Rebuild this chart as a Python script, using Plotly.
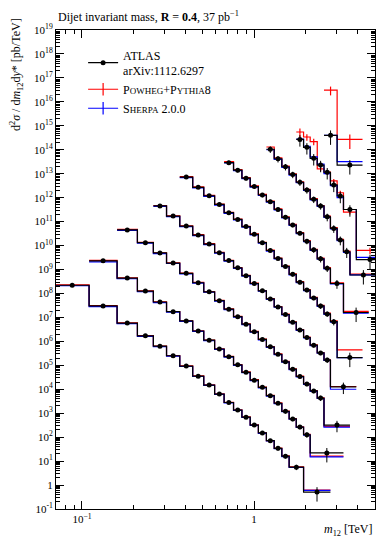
import plotly.graph_objects as go

# ---------------- data (values as plotted, slice i already scaled by 10^i) ----------------
# y* < 0.5
edges_y0 = [0.07, 0.11, 0.16, 0.21, 0.26, 0.31, 0.37, 0.44, 0.51, 0.59, 0.67, 0.76, 0.85, 0.95, 1.06, 1.18, 1.31, 1.45, 1.60, 1.94, 2.78]
data_y0 = [2.2e8, 3.0e7, 5.8e6, 1.7e6, 6.3e5, 2.5e5, 9.3e4, 3.5e4, 1.5e4, 6.3e3, 2.8e3, 1.35e3, 6.8e2, 3.2e2, 1.5e2, 71, 34, 16, 5.6, 0.51]
powheg_y0 = [2.3e8, 3.1e7, 5.9e6, 1.75e6, 6.4e5, 2.55e5, 9.5e4, 3.6e4, 1.52e4, 6.4e3, 2.85e3, 1.38e3, 7.0e2, 3.3e2, 1.52e2, 72, 35, 16.5, 5.8, 0.62]
sherpa_y0 = [2.1e8, 2.8e7, 5.5e6, 1.6e6, 6.0e5, 2.4e5, 8.9e4, 3.4e4, 1.45e4, 6.1e3, 2.7e3, 1.3e3, 6.6e2, 3.1e2, 1.45e2, 69, 33, 15.5, 5.4, 0.6]
err_y0 = [0.15, 0.15, 0.15, 0.15, 0.15, 0.15, 0.15, 0.15, 0.15, 0.15, 0.15, 0.15, 0.15, 0.15, 0.15, 0.15, 0.2, 0.2, 0.25, 0.6]

# 0.5 < y* < 1.0
edges_y1 = [0.11, 0.16, 0.21, 0.26, 0.31, 0.37, 0.44, 0.51, 0.59, 0.67, 0.76, 0.85, 0.95, 1.06, 1.18, 1.31, 1.45, 1.60, 1.76, 1.94, 2.12, 3.31]
data_y1 = [2.3e9, 4.4e8, 1.26e8, 4.4e7, 1.74e7, 7.1e6, 2.7e6, 1.12e6, 4.8e5, 2.3e5, 1.05e5, 5.1e4, 2.4e4, 1.2e4, 5.4e3, 2.6e3, 1.2e3, 575, 263, 126, 22]
powheg_y1 = [2.4e9, 4.5e8, 1.28e8, 4.5e7, 1.76e7, 7.2e6, 2.75e6, 1.14e6, 4.9e5, 2.35e5, 1.07e5, 5.3e4, 2.5e4, 1.22e4, 5.5e3, 2.7e3, 1.22e3, 590, 270, 130, 16]
sherpa_y1 = [2.1e9, 4.1e8, 1.18e8, 4.1e7, 1.65e7, 6.8e6, 2.6e6, 1.07e6, 4.6e5, 2.2e5, 1.0e5, 4.9e4, 2.3e4, 1.15e4, 5.2e3, 2.5e3, 1.16e3, 560, 255, 122, 15]
err_y1 = [0.15, 0.15, 0.15, 0.15, 0.15, 0.15, 0.15, 0.15, 0.15, 0.15, 0.15, 0.15, 0.15, 0.15, 0.15, 0.15, 0.2, 0.2, 0.2, 0.25, 0.6]

# 1.0 < y* < 1.5
edges_y2 = [0.16, 0.21, 0.26, 0.31, 0.37, 0.44, 0.51, 0.59, 0.67, 0.76, 0.85, 0.95, 1.06, 1.18, 1.31, 1.45, 1.60, 1.76, 1.94, 2.12, 2.33, 2.55, 3.61]
data_y2 = [4.5e10, 1.32e10, 4.9e9, 1.86e9, 6.9e8, 2.8e8, 1.17e8, 5.0e7, 2.2e7, 1.07e7, 5.2e6, 2.5e6, 1.2e6, 5.9e5, 2.9e5, 1.4e5, 6.9e4, 3.4e4, 1.66e4, 8.5e3, 4.3e3, 320]
powheg_y2 = [4.7e10, 1.36e10, 5.0e9, 1.9e9, 7.1e8, 2.9e8, 1.2e8, 5.1e7, 2.25e7, 1.1e7, 5.4e6, 2.6e6, 1.25e6, 6.0e5, 3.0e5, 1.45e5, 7.1e4, 3.5e4, 1.7e4, 8.7e3, 4.4e3, 280]
sherpa_y2 = [4.3e10, 1.25e10, 4.6e9, 1.78e9, 6.6e8, 2.7e8, 1.12e8, 4.8e7, 2.1e7, 1.03e7, 5.0e6, 2.4e6, 1.15e6, 5.6e5, 2.8e5, 1.35e5, 6.6e4, 3.3e4, 1.6e4, 8.2e3, 4.1e3, 260]
err_y2 = [0.15, 0.15, 0.15, 0.15, 0.15, 0.15, 0.15, 0.15, 0.15, 0.15, 0.15, 0.15, 0.15, 0.15, 0.15, 0.15, 0.2, 0.2, 0.2, 0.2, 0.25, 0.5]

# 1.5 < y* < 2.0
edges_y3 = [0.26, 0.31, 0.37, 0.44, 0.51, 0.59, 0.67, 0.76, 0.85, 0.95, 1.06, 1.18, 1.31, 1.45, 1.60, 1.76, 1.94, 2.12, 2.33, 2.55, 2.78, 3.93]
data_y3 = [4.5e11, 1.7e11, 6.5e10, 2.75e10, 1.15e10, 5.0e9, 2.35e9, 1.17e9, 5.5e8, 2.6e8, 1.29e8, 5.9e7, 2.75e7, 1.32e7, 6.3e6, 3.0e6, 1.45e6, 6.9e5, 3.3e5, 1.66e5, 1.26e4]
powheg_y3 = [4.7e11, 1.75e11, 6.7e10, 2.85e10, 1.2e10, 5.2e9, 2.4e9, 1.2e9, 5.7e8, 2.7e8, 1.33e8, 6.1e7, 2.85e7, 1.36e7, 6.5e6, 3.1e6, 1.5e6, 7.1e5, 3.4e5, 1.7e5, 1.3e4]
sherpa_y3 = [4.3e11, 1.62e11, 6.2e10, 2.6e10, 1.1e10, 4.8e9, 2.25e9, 1.12e9, 5.3e8, 2.5e8, 1.24e8, 5.7e7, 2.65e7, 1.27e7, 6.1e6, 2.9e6, 1.4e6, 6.6e5, 3.2e5, 1.6e5, 1.0e4]
err_y3 = [0.15, 0.15, 0.15, 0.15, 0.15, 0.15, 0.15, 0.15, 0.15, 0.15, 0.15, 0.15, 0.15, 0.15, 0.15, 0.2, 0.2, 0.2, 0.2, 0.25, 0.5]

# 2.0 < y* < 2.5
edges_y4 = [0.37, 0.44, 0.51, 0.59, 0.67, 0.76, 0.85, 0.95, 1.06, 1.18, 1.31, 1.45, 1.60, 1.76, 1.94, 2.12, 2.33, 2.55, 2.78, 3.04, 4.27]
data_y4 = [7.2e12, 2.7e12, 1.2e12, 5.2e11, 2.35e11, 1.23e11, 6.2e10, 2.95e10, 1.32e10, 6.2e9, 2.9e9, 1.35e9, 6.3e8, 2.95e8, 1.38e8, 6.5e7, 3.0e7, 1.4e7, 6.6e6, 2.1e5]
powheg_y4 = [7.6e12, 2.8e12, 1.25e12, 5.4e11, 2.45e11, 1.28e11, 6.4e10, 3.05e10, 1.37e10, 6.4e9, 3.0e9, 1.4e9, 6.6e8, 3.1e8, 1.45e8, 6.8e7, 3.2e7, 1.5e7, 7.2e6, 4.4e5]
sherpa_y4 = [6.9e12, 2.55e12, 1.14e12, 4.9e11, 2.2e11, 1.17e11, 5.9e10, 2.8e10, 1.25e10, 5.9e9, 2.75e9, 1.3e9, 6.0e8, 2.8e8, 1.32e8, 6.2e7, 2.9e7, 1.35e7, 6.3e6, 2.1e5]
err_y4 = [0.15, 0.15, 0.15, 0.15, 0.15, 0.15, 0.15, 0.15, 0.15, 0.15, 0.15, 0.15, 0.2, 0.2, 0.2, 0.2, 0.25, 0.25, 0.3, 0.6]

# 2.5 < y* < 3.0
edges_y5 = [0.67, 0.76, 0.85, 0.95, 1.06, 1.18, 1.31, 1.45, 1.60, 1.76, 1.94, 2.12, 2.33, 2.55, 2.78, 3.31, 4.64]
data_y5 = [2.9e13, 1.41e13, 6.5e12, 2.9e12, 1.29e12, 6.8e11, 3.2e11, 1.51e11, 7.2e10, 3.3e10, 1.51e10, 6.6e9, 2.8e9, 1.12e9, 2.6e8, 1.6e7]
powheg_y5 = [3.2e13, 1.5e13, 6.9e12, 3.1e12, 1.36e12, 7.1e11, 3.4e11, 1.58e11, 7.6e10, 3.5e10, 1.6e10, 7.0e9, 3.0e9, 1.2e9, 2.8e8, 1.8e7]
sherpa_y5 = [2.8e13, 1.35e13, 6.2e12, 2.75e12, 1.23e12, 6.5e11, 3.05e11, 1.44e11, 6.9e10, 3.15e10, 1.44e10, 6.3e9, 2.7e9, 1.07e9, 2.5e8, 1.5e7]
err_y5 = [0.2, 0.2, 0.2, 0.2, 0.2, 0.2, 0.2, 0.2, 0.2, 0.2, 0.25, 0.25, 0.3, 0.3, 0.4, 0.6]

# 3.0 < y* < 3.5
edges_y6 = [1.18, 1.31, 1.45, 1.60, 1.76, 1.94, 2.12, 2.33, 2.55, 2.78, 3.04, 3.31, 3.61, 5.17]
data_y6 = [1.05e14, 4.2e13, 1.95e13, 9.3e12, 4.4e12, 2.1e12, 8.5e11, 4.5e11, 1.58e11, 5.2e10, 1.7e10, 5.5e9, 5.9e8]
powheg_y6 = [1.3e14, 4.6e13, 2.1e13, 9.8e12, 4.6e12, 2.2e12, 9.2e11, 4.7e11, 1.7e11, 5.6e10, 1.8e10, 5.8e9, 6.5e8]
sherpa_y6 = [1.0e14, 4.0e13, 1.85e13, 8.8e12, 4.2e12, 2.0e12, 8.1e11, 4.3e11, 1.5e11, 5.0e10, 1.6e10, 5.2e9, 6.0e8]
err_y6 = [0.3, 0.3, 0.3, 0.3, 0.3, 0.3, 0.3, 0.3, 0.35, 0.35, 0.4, 0.45, 0.6]

# 3.5 < y* < 4.0
edges_y7 = [1.76, 1.94, 2.12, 2.33, 2.55, 2.78, 3.04, 3.31, 3.93, 5.67]
data_y7 = [2.7e14, 1.26e14, 4.4e13, 2.3e13, 1.15e13, 3.4e12, 1.17e12, 3.2e11, 2.6e9]
powheg_y7 = [5.5e14, 3.4e14, 2.2e14, 1.6e13, 1.17e13, 5.0e12, 1.6e12, 2.5e11, 6.3e9]
sherpa_y7 = [2.8e14, 1.4e14, 5.0e13, 2.5e13, 1.0e13, 3.2e12, 1.0e12, 3.2e11, 3.2e9]
err_y7 = [0.5, 0.5, 0.5, 0.5, 0.5, 0.5, 0.5, 0.5, 0.6]
powheg_err_y7 = [0.4, 0.3, 0.3, 0.2, 0.2, 0.2, 0.2, 0.2, 0.3]

# 4.0 < y* < 4.4
edges_y8 = [2.55, 3.04, 4.27]
data_y8 = [4.0e14, 2.3e13]
powheg_y8 = [3.1e16, 2.7e14]
sherpa_y8 = [4.0e14, 3.2e13]
err_y8 = [0.6, 0.6]
powheg_err_y8 = [0.4, 0.6]

SLICES = [
    (edges_y0, data_y0, powheg_y0, sherpa_y0, err_y0, None),
    (edges_y1, data_y1, powheg_y1, sherpa_y1, err_y1, None),
    (edges_y2, data_y2, powheg_y2, sherpa_y2, err_y2, None),
    (edges_y3, data_y3, powheg_y3, sherpa_y3, err_y3, None),
    (edges_y4, data_y4, powheg_y4, sherpa_y4, err_y4, None),
    (edges_y5, data_y5, powheg_y5, sherpa_y5, err_y5, None),
    (edges_y6, data_y6, powheg_y6, sherpa_y6, err_y6, None),
    (edges_y7, data_y7, powheg_y7, sherpa_y7, err_y7, powheg_err_y7),
    (edges_y8, data_y8, powheg_y8, sherpa_y8, err_y8, powheg_err_y8),
]

y_tick_exp = list(range(-1, 20))
x_major = [0.1, 1]
x_major_text = ["10<sup>−1</sup>", "1"]
x_minor = [0.07, 0.08, 0.09, 0.2, 0.3, 0.4, 0.5, 0.6, 0.7, 0.8, 0.9, 2, 3, 4, 5]

RED = "#ff0000"
BLUE = "#0000ff"
FONT = "Liberation Serif"

fig = go.Figure()


def centers(edges):
    return [(edges[i] * edges[i + 1]) ** 0.5 for i in range(len(edges) - 1)]


for edges, d, p, s, e, pe in SLICES:
    for vals, col in ((p, RED), (s, BLUE)):
        fig.add_trace(go.Scatter(x=edges, y=vals + [vals[-1]], mode="lines",
                                 line=dict(color=col, width=1.2, shape="hv"),
                                 showlegend=False, hoverinfo="skip"))
    if pe is not None:
        fig.add_trace(go.Scatter(x=centers(edges), y=p, mode="markers",
                                 marker=dict(size=1, color=RED),
                                 error_y=dict(type="data", array=[v * r for v, r in zip(p, pe)],
                                              arrayminus=[v * r for v, r in zip(p, pe)],
                                              color=RED, thickness=1.2, width=0),
                                 showlegend=False, hoverinfo="skip"))
    fig.add_trace(go.Scatter(x=edges, y=d + [d[-1]], mode="lines",
                             line=dict(color="black", width=1.2, shape="hv"),
                             showlegend=False, hoverinfo="skip"))
    fig.add_trace(go.Scatter(x=centers(edges), y=d, mode="markers",
                             marker=dict(size=5, color="black"),
                             error_y=dict(type="data", array=[v * r for v, r in zip(d, e)],
                                          arrayminus=[v * r for v, r in zip(d, e)],
                                          color="black", thickness=1, width=0),
                             showlegend=False, hoverinfo="skip"))

# legend entries
fig.add_trace(go.Scatter(x=[None], y=[None], mode="lines+markers",
                         line=dict(color="black", width=1.2), marker=dict(size=5, color="black"),
                         name="ATLAS<br>arXiv:1112.6297"))
fig.add_trace(go.Scatter(x=[None], y=[None], mode="lines+markers",
                         line=dict(color=RED, width=1.2),
                         marker=dict(symbol="line-ns", size=9, line=dict(color=RED, width=1.2)),
                         name="P<span style='font-size:9px'>OWHEG</span>+P<span style='font-size:9px'>YTHIA</span>8"))
fig.add_trace(go.Scatter(x=[None], y=[None], mode="lines+markers",
                         line=dict(color=BLUE, width=1.2),
                         marker=dict(symbol="line-ns", size=9, line=dict(color=BLUE, width=1.2)),
                         name="S<span style='font-size:9px'>HERPA</span> 2.0.0"))

fig.update_layout(
    width=380, height=542,
    margin=dict(l=56, r=5, t=30, b=33),
    paper_bgcolor="white", plot_bgcolor="white",
    font=dict(family=FONT, size=12, color="black"),
    showlegend=True,
    legend=dict(x=0.085, y=0.978, xanchor="left", yanchor="top", bgcolor="rgba(0,0,0,0)",
                font=dict(family=FONT, size=12), tracegroupgap=6, itemwidth=30),
    xaxis=dict(type="log", range=[-1.151, 0.703], showline=True, linecolor="black", linewidth=1,
               mirror="allticks", ticks="inside", ticklen=8, tickcolor="black",
               tickmode="array", tickvals=x_major, ticktext=x_major_text, showgrid=False, zeroline=False,
               tickfont=dict(size=11),
               minor=dict(tickmode="array", tickvals=x_minor, ticks="inside", ticklen=4, tickcolor="black", showgrid=False)),
    yaxis=dict(type="log", range=[-1, 19], showline=True, linecolor="black", linewidth=1,
               mirror="allticks", ticks="inside", ticklen=8, tickcolor="black",
               tickmode="array", tickvals=[10.0 ** k for k in y_tick_exp],
               ticktext=[("1" if k == 0 else "10<sup>%d</sup>" % k) for k in y_tick_exp],
               showgrid=False, zeroline=False, tickfont=dict(size=11),
               minor=dict(tickmode="array",
                          tickvals=[m * 10.0 ** k for k in y_tick_exp[:-1] for m in range(2, 10)],
                          ticks="inside", ticklen=4, tickcolor="black", showgrid=False)),
    annotations=[
        dict(text="Dijet invariant mass, <b>R</b> = <b>0.4</b>, 37 pb<sup>−1</sup>", xref="paper", yref="paper",
             x=0.0, y=1.0, xanchor="left", yanchor="bottom", yshift=4, showarrow=False,
             font=dict(family=FONT, size=12)),
        dict(text="<i>m</i><sub>12</sub> [TeV]", xref="paper", yref="paper", x=1.0, y=0, xanchor="right",
             yanchor="middle", yshift=-21, showarrow=False, font=dict(family=FONT, size=12)),
        dict(text="d<sup>2</sup><i>σ</i> / d<i>m</i><sub>12</sub>d<i>y</i>* [pb/TeV]", xref="paper", yref="paper",
             x=0, y=1.0, xanchor="right", yanchor="top", xshift=-29, yshift=14, textangle=-90,
             showarrow=False, font=dict(family=FONT, size=12)),
    ],
)

fig.write_html("out.html")
